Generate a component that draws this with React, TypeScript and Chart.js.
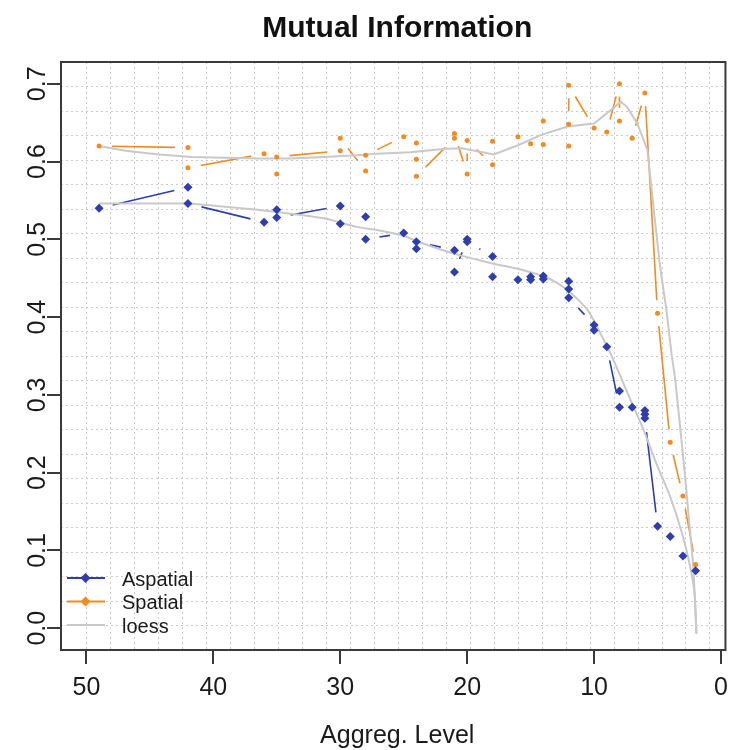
import React, { useEffect, useRef } from 'react';
import { Chart, registerables } from 'chart.js';

Chart.register(...registerables);

// ---------- data ----------
const xTicks = [50, 40, 30, 20, 10, 0];
const yTicks = [0, 0.1, 0.2, 0.3, 0.4, 0.5, 0.6, 0.7];
const yTickLabels = ['0.0', '0.1', '0.2', '0.3', '0.4', '0.5', '0.6', '0.7'];

const aspatialX = [49, 42, 42, 36, 35, 35, 30, 30, 28, 28, 25, 24, 24, 21, 21, 20, 20, 18, 18, 16, 15, 15, 14, 14, 12, 12, 12, 10, 10, 9, 8, 8, 7, 6, 6, 6, 5, 4, 3, 2];
const aspatialY = [0.540, 0.567, 0.546, 0.522, 0.538, 0.528, 0.543, 0.520, 0.529, 0.500, 0.508, 0.488, 0.497, 0.486, 0.458, 0.500, 0.497, 0.478, 0.452, 0.448, 0.452, 0.448, 0.453, 0.449, 0.446, 0.436, 0.425, 0.390, 0.383, 0.362, 0.284, 0.305, 0.284, 0.280, 0.275, 0.270, 0.131, 0.118, 0.093, 0.074];

const spatialX = [49, 42, 42, 36, 35, 35, 30, 30, 28, 28, 25, 24, 24, 24, 21, 21, 20, 20, 18, 18, 16, 15, 14, 14, 12, 12, 12, 10, 9, 8, 8, 7, 6, 5, 4, 3, 2];
const spatialY = [0.620, 0.618, 0.592, 0.610, 0.584, 0.606, 0.614, 0.630, 0.588, 0.608, 0.632, 0.624, 0.603, 0.581, 0.630, 0.636, 0.584, 0.627, 0.596, 0.626, 0.632, 0.623, 0.652, 0.622, 0.620, 0.648, 0.698, 0.643, 0.638, 0.700, 0.652, 0.630, 0.688, 0.405, 0.239, 0.170, 0.082];

const loessAspX = [49, 44.3, 42, 39.1, 36.5, 33.9, 31.3, 28.7, 27.1, 25.1, 23.2, 20.7, 18.0, 15.5, 13.6, 12.1, 10.5, 9.5, 8.7, 7.9, 6.9, 6.1, 5.1, 4.0, 3.0, 2.33, 2.06, 1.94];
const loessAspY = [0.546, 0.546, 0.546, 0.542, 0.538, 0.533, 0.527, 0.516, 0.512, 0.505, 0.493, 0.480, 0.469, 0.460, 0.450, 0.435, 0.409, 0.379, 0.353, 0.323, 0.285, 0.255, 0.212, 0.169, 0.118, 0.071, 0.040, -0.007];

const loessSpX = [49, 46.9, 44.3, 41.7, 36.5, 33.9, 31.3, 28.7, 27.1, 24.5, 21.9, 20.4, 17.9, 16.0, 14.2, 12.1, 10.0, 8.4, 7.9, 7.4, 6.6, 5.8, 5.3, 4.8, 4.3, 3.9, 3.6, 3.2, 2.8, 2.45, 2.2, 2.06, 1.94];
const loessSpY = [0.620, 0.614, 0.609, 0.606, 0.604, 0.604, 0.606, 0.608, 0.610, 0.612, 0.616, 0.617, 0.609, 0.621, 0.634, 0.645, 0.649, 0.670, 0.677, 0.670, 0.649, 0.615, 0.538, 0.465, 0.409, 0.353, 0.319, 0.255, 0.190, 0.126, 0.083, 0.040, -0.007];

// grid line positions (R grid(): evenly spaced cells)
const xGridStart = 50.0;
const xGridStep = 1.888;
const xGridCount = 27;
const yGridStart = 0.004;
const yGridStep = 0.0315;
const yGridCount = 23;

const X_MIN = -0.35;
const X_MAX = 52;
const Y_MIN = -0.028;
const Y_MAX = 0.728;

const BLUE = '#2e3db0';
const ORANGE = '#f58a1f';
const GREY = '#c9c9c9';
const FONT = '"Liberation Sans", Arial, Helvetica, sans-serif';

const pts = (xs: number[], ys: number[]) => xs.map((x, i) => ({ x, y: ys[i] }));

const decorPlugin = {
  id: 'decor',
  beforeDatasetsDraw(chart: any) {
    const ctx = chart.ctx;
    const a = chart.chartArea;
    const sx = chart.scales.x;
    const sy = chart.scales.y;
    ctx.save();
    ctx.beginPath();
    ctx.rect(a.left, a.top, a.right - a.left, a.bottom - a.top);
    ctx.clip();
    // dotted grid
    ctx.strokeStyle = '#cbcbcb';
    ctx.lineWidth = 1;
    ctx.setLineDash([2, 3]);
    for (let k = 0; k < xGridCount; k++) {
      const px = Math.round(sx.getPixelForValue(xGridStart - k * xGridStep)) + 0.5;
      ctx.beginPath();
      ctx.moveTo(px, a.top);
      ctx.lineTo(px, a.bottom);
      ctx.stroke();
    }
    for (let k = 0; k < yGridCount; k++) {
      const py = Math.round(sy.getPixelForValue(yGridStart + k * yGridStep)) + 0.5;
      ctx.beginPath();
      ctx.moveTo(a.left, py);
      ctx.lineTo(a.right, py);
      ctx.stroke();
    }
    ctx.setLineDash([]);
    // R type="b" lines: segments with gaps around points
    chart.data.datasets.forEach((ds: any, i: number) => {
      if (!ds.gapLine) return;
      const meta = chart.getDatasetMeta(i);
      const el = meta.data;
      ctx.strokeStyle = ds.borderColor;
      ctx.lineWidth = ds.gapLineWidth;
      for (let j = 0; j < el.length - 1; j++) {
        const p = el[j];
        const q = el[j + 1];
        const dx = q.x - p.x;
        const dy = q.y - p.y;
        const d = Math.hypot(dx, dy);
        if (d <= 2 * ds.gapLine) continue;
        const ux = dx / d;
        const uy = dy / d;
        ctx.beginPath();
        ctx.moveTo(p.x + ux * ds.gapLine, p.y + uy * ds.gapLine);
        ctx.lineTo(q.x - ux * ds.gapLine, q.y - uy * ds.gapLine);
        ctx.stroke();
      }
    });
    ctx.restore();
  },
  afterDraw(chart: any) {
    const ctx = chart.ctx;
    const a = chart.chartArea;
    const sy = chart.scales.y;
    ctx.save();
    // box
    ctx.strokeStyle = '#3a3a3a';
    ctx.lineWidth = 2;
    ctx.strokeRect(a.left, a.top, a.right - a.left, a.bottom - a.top);
    // y tick labels (rotated, R style)
    ctx.fillStyle = '#1a1a1a';
    ctx.font = `25px ${FONT}`;
    ctx.textAlign = 'center';
    ctx.textBaseline = 'alphabetic';
    yTicks.forEach((v, i) => {
      const py = sy.getPixelForValue(v);
      ctx.save();
      ctx.translate(45, py);
      ctx.rotate(-Math.PI / 2);
      ctx.fillText(yTickLabels[i], 0, 0);
      ctx.restore();
    });
    const cx = (a.left + a.right) / 2 + 4;
    // title
    ctx.font = `bold 30px ${FONT}`;
    ctx.fillStyle = '#111';
    ctx.fillText('Mutual Information', cx, 37);
    // x axis title
    ctx.font = `25px ${FONT}`;
    ctx.fillStyle = '#1a1a1a';
    ctx.fillText('Aggreg. Level', cx, 743);
    // legend
    const rows = [
      { label: 'Aspatial', color: BLUE, marker: true },
      { label: 'Spatial', color: ORANGE, marker: true },
      { label: 'loess', color: GREY, marker: false },
    ];
    const rowY = [578, 601.5, 625];
    rows.forEach((r, i) => {
      const y = rowY[i];
      ctx.strokeStyle = r.color;
      ctx.lineWidth = 2;
      ctx.beginPath();
      ctx.moveTo(67, y);
      ctx.lineTo(105, y);
      ctx.stroke();
      if (r.marker) {
        ctx.fillStyle = r.color;
        ctx.beginPath();
        ctx.moveTo(85.5, y - 5);
        ctx.lineTo(90.5, y);
        ctx.lineTo(85.5, y + 5);
        ctx.lineTo(80.5, y);
        ctx.closePath();
        ctx.fill();
      }
      ctx.fillStyle = '#1a1a1a';
      ctx.font = `20px ${FONT}`;
      ctx.textAlign = 'left';
      ctx.fillText(r.label, 122, y + 7.5);
    });
    ctx.restore();
  },
};

export default function App() {
  const ref = useRef<HTMLCanvasElement | null>(null);

  useEffect(() => {
    if (!ref.current) return;
    const chart = new Chart(ref.current, {
      type: 'line',
      data: {
        datasets: [
          {
            label: 'Aspatial',
            data: pts(aspatialX, aspatialY),
            showLine: false,
            pointStyle: 'rectRot',
            pointRadius: 4.5,
            pointBorderWidth: 0,
            backgroundColor: BLUE,
            borderColor: BLUE,
            gapLine: 14,
            gapLineWidth: 1.6,
            order: 0,
          } as any,
          {
            label: 'Spatial',
            data: pts(spatialX, spatialY),
            showLine: false,
            pointStyle: 'circle',
            pointRadius: 2.5,
            pointBorderWidth: 0,
            backgroundColor: ORANGE,
            borderColor: ORANGE,
            gapLine: 13,
            gapLineWidth: 1.6,
            order: 1,
          } as any,
          {
            label: 'loess',
            data: pts(loessAspX, loessAspY),
            showLine: true,
            pointRadius: 0,
            borderColor: GREY,
            borderWidth: 2,
            tension: 0.2,
            fill: false,
            order: 2,
          },
          {
            label: 'loess',
            data: pts(loessSpX, loessSpY),
            showLine: true,
            pointRadius: 0,
            borderColor: GREY,
            borderWidth: 2,
            tension: 0,
            fill: false,
            order: 3,
          },
        ],
      },
      options: {
        animation: false,
        responsive: false,
        devicePixelRatio: 1,
        layout: { padding: { left: 0, top: 62, right: 4, bottom: 0 } },
        plugins: {
          legend: { display: false },
          tooltip: { enabled: false },
          title: { display: false },
        },
        scales: {
          x: {
            type: 'linear',
            reverse: true,
            min: X_MIN,
            max: X_MAX,
            afterBuildTicks: (s: any) => {
              s.ticks = xTicks.map((v) => ({ value: v }));
            },
            afterFit: (s: any) => {
              s.height = 100;
            },
            ticks: {
              autoSkip: false,
              maxRotation: 0,
              minRotation: 0,
              padding: 9,
              color: '#1a1a1a',
              font: { family: FONT, size: 25 },
              callback: (v: any) => String(v),
            },
            grid: {
              drawOnChartArea: false,
              drawTicks: true,
              tickLength: 14,
              color: '#3a3a3a',
              lineWidth: 2,
            },
            border: { display: false },
          },
          y: {
            type: 'linear',
            min: Y_MIN,
            max: Y_MAX,
            afterBuildTicks: (s: any) => {
              s.ticks = yTicks.map((v) => ({ value: v }));
            },
            afterFit: (s: any) => {
              s.width = 61;
            },
            ticks: {
              autoSkip: false,
              color: 'rgba(0,0,0,0)',
              font: { family: FONT, size: 25 },
              callback: (v: any) => String(v),
            },
            grid: {
              drawOnChartArea: false,
              drawTicks: true,
              tickLength: 14,
              color: '#3a3a3a',
              lineWidth: 2,
            },
            border: { display: false },
          },
        },
      },
      plugins: [decorPlugin],
    });
    return () => chart.destroy();
  }, []);

  return (
    <div style={{ position: 'absolute', left: 0, top: 0, width: 737, height: 750, background: '#fff' }}>
      <canvas ref={ref} width={737} height={750} style={{ display: 'block' }} />
    </div>
  );
}
